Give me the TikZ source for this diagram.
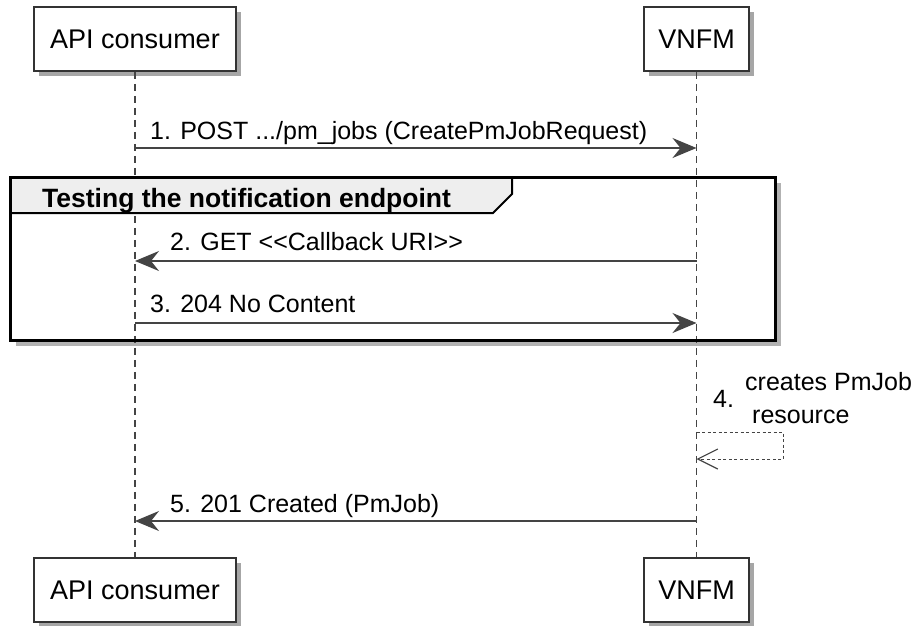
\documentclass[tikz,border=0pt]{standalone}
\usepackage{fontspec}
\setmainfont{Liberation Sans}
\usetikzlibrary{arrows.meta,shadows}
\definecolor{linec}{HTML}{444444}
\definecolor{hdrfill}{HTML}{EEEEEE}
\begin{document}
\begin{tikzpicture}[x=1pt,y=-1pt,
  part/.style={draw=black!80, line width=1.5pt, fill=white, minimum height=64pt, inner sep=0pt,
    font=\fontsize{27}{32}\selectfont,
    drop shadow={shadow xshift=5pt, shadow yshift=-5pt, fill=black!35, opacity=1}},
  msg/.style={draw=linec, line width=1.3pt, -{Stealth[length=24pt,width=20pt,inset=8pt]}},
  selfmsg/.style={draw=linec, line width=1pt, dash pattern=on 3pt off 2.5pt, -{Straight Barb[length=20pt,width=20pt,line width=1.2pt]}},
  lbl/.style={anchor=base west, inner sep=0pt, font=\fontsize{25}{30}\selectfont},
  life/.style={draw=linec, line width=1.3pt, dash pattern=on 7pt off 5pt},
  grpframe/.style={draw=black, line width=3pt},
  grptab/.style={draw=black, line width=2pt, fill=hdrfill}]
\useasboundingbox (0,0) rectangle (919,625);
\def\xA{135}
\def\xV{696.5}
% group background
\fill[black!30] (16,183) rectangle (781,346);
\fill[white] (10,177) rectangle (775,340);
% participants
\node[part, minimum width=202pt] (apiT) at (\xA,39) {API consumer};
\node[part, minimum width=105pt] (vnfmT) at (\xV,39) {VNFM};
\node[part, minimum width=202pt] (apiB) at (\xA,590) {API consumer};
\node[part, minimum width=105pt] (vnfmB) at (\xV,590) {VNFM};
% lifelines
\draw[life] (apiT.south) -- (apiB.north);
\draw[life] (vnfmT.south) -- (vnfmB.north);
% group header and frame
\draw[grptab] (10,177) -- (512,177) -- (512,194) -- (493,213) -- (10,213);
\draw[grpframe] (10,177) rectangle (775,340);
\node[anchor=base west, inner sep=0pt, font=\bfseries\fontsize{26.5}{30}\selectfont] (grp) at (42,207) {Testing the notification endpoint};
% message anchor points
\coordinate (a1) at (\xA,148);  \coordinate (v1) at (\xV,148);
\coordinate (a2) at (\xA,261);  \coordinate (v2) at (\xV,261);
\coordinate (a3) at (\xA,323);  \coordinate (v3) at (\xV,323);
\coordinate (s1) at (\xV,432);  \coordinate (s2) at (\xV,459);
\coordinate (c1) at (783,432);  \coordinate (c2) at (783,459);
\coordinate (a5) at (\xA,521);  \coordinate (v5) at (\xV,521);
% messages
\draw[msg] (a1) -- (v1);
\node[lbl] (l1) at (150,139) {1. POST .../pm\_jobs (CreatePmJobRequest)};
\draw[msg] (v2) -- (a2);
\node[lbl] (l2) at (170,250) {2. GET <{}<Callback URI>{}>};
\draw[msg] (a3) -- (v3);
\node[lbl] (l3) at (150,312) {3. 204 No Content};
\draw[selfmsg] (s1) -- (c1) -- (c2) -- (s2);
\node[lbl] (l4n) at (713,407) {4.};
\node[lbl] (l4a) at (745,390) {creates PmJob};
\node[lbl] (l4b) at (752,423) {resource};
\draw[msg] (v5) -- (a5);
\node[lbl] (l5) at (170,512) {5. 201 Created (PmJob)};
\end{tikzpicture}
\end{document}
